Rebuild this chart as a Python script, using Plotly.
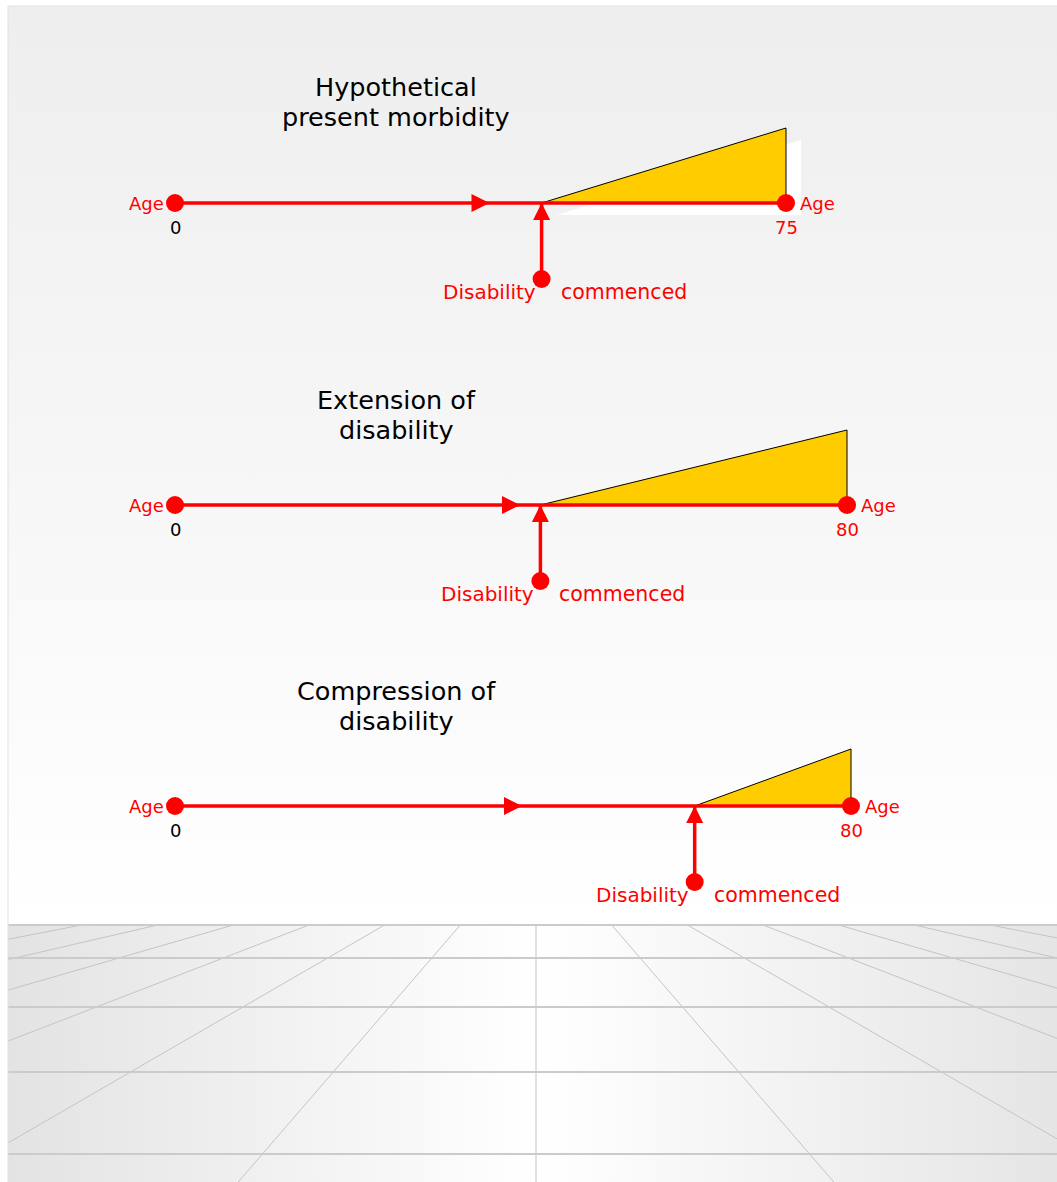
import plotly.graph_objects as go

# ---------------------------------------------------------------- data
panel_titles = [
    ["Hypothetical", "present morbidity"],
    ["Extension of", "disability"],
    ["Compression of", "disability"],
]
end_age = [75, 80, 80]            # age at death
onset_age = [45, 43.5, 61.5]      # age at which disability commenced
end_level = [1.0, 1.0, 0.76]      # disability level reached at death
start_labels = ["0", "0", "0"]
end_labels = ["75", "80", "80"]

# ---------------------------------------------------------------- layout (page pixels)
W, H = 1057, 1182
FONT = "DejaVu Sans, Liberation Sans, Arial, sans-serif"
RED = "#ff0000"
GOLD = "#ffcc00"

zero_px = 175                      # x of age 0 on every panel
end_px = [786, 847, 851]           # x of the end age on each panel
baseline_px = [203, 505, 806]      # y of each life line
title_pos = [(396, 102), (396, 415), (396, 706)]
title_gap = 30                     # distance between the two title lines
level_px = 75                      # pixels per unit of disability level
stem_px = 76                       # length of the "commenced" stem
shadow_off = (15, 12)              # drop shadow behind the first wedge

panel_left, panel_top, floor_top = 8, 6, 925
floor_rows = [925, 958, 1007, 1072, 1154]
vanish_x, vanish_y = 536, 837.4
col_step = 75.7                    # floor column spacing along the horizon edge

fig = go.Figure()

# ---------------------------------------------------------------- backdrop
fig.add_trace(go.Scatter(
    x=[panel_left, W, W, panel_left, panel_left],
    y=[panel_top, panel_top, floor_top, floor_top, panel_top],
    mode="lines", line=dict(width=0), fill="toself",
    fillgradient=dict(type="vertical", start=panel_top, stop=floor_top,
                      colorscale=[[0, "#eeeeee"], [1, "#ffffff"]]),
    hoverinfo="skip"))

fig.add_trace(go.Scatter(
    x=[panel_left, W, W, panel_left, panel_left],
    y=[floor_top, floor_top, H, H, floor_top],
    mode="lines", line=dict(width=0), fill="toself",
    fillgradient=dict(type="horizontal", start=panel_left, stop=W,
                      colorscale=[[0, "#e3e3e3"], [0.503, "#ffffff"], [1, "#e5e5e5"]]),
    hoverinfo="skip"))

# perspective floor: columns converging on the vanishing point
col_x, col_y = [], []
for k in range(-8, 9):
    def x_at(y):
        return vanish_x + k * col_step * (y - vanish_y) / (floor_top - vanish_y)
    x0 = x_at(floor_top)
    if x0 < panel_left or x0 > W:
        continue
    y1 = H
    x1 = x_at(H)
    if x1 < panel_left or x1 > W:
        edge = panel_left if x1 < panel_left else W
        y1 = vanish_y + (edge - vanish_x) * (floor_top - vanish_y) / (k * col_step)
        x1 = edge
    col_x += [x0, x1, None]
    col_y += [floor_top, y1, None]
fig.add_trace(go.Scatter(x=col_x, y=col_y, mode="lines",
                         line=dict(color="#c4c4c4", width=1), hoverinfo="skip"))

row_x, row_y = [], []
for r in floor_rows:
    row_x += [panel_left, W, None]
    row_y += [r, r, None]
fig.add_trace(go.Scatter(x=row_x, y=row_y, mode="lines",
                         line=dict(color="#cbcbcb", width=2), hoverinfo="skip"))

# thin frame on the left and top edge of the backdrop
fig.add_trace(go.Scatter(x=[panel_left, panel_left, None, panel_left, W],
                         y=[H, panel_top, None, panel_top, panel_top],
                         mode="lines", line=dict(color="#e2e2e2", width=1),
                         hoverinfo="skip"))

# ---------------------------------------------------------------- panels
annotations = []
layout_axes = {}
for i in range(3):
    n = i + 2
    xa, ya = f"x{n}", f"y{n}"
    A, T, L = end_age[i], onset_age[i], end_level[i]
    b = baseline_px[i]
    s = (end_px[i] - zero_px) / A           # pixels per year
    px_x, px_y = 1.0 / s, 1.0 / level_px    # data units per pixel

    layout_axes[f"xaxis{n}"] = dict(overlaying="x", anchor=ya, visible=False,
                                    range=[-zero_px / s, (W - zero_px) / s],
                                    fixedrange=True)
    layout_axes[f"yaxis{n}"] = dict(overlaying="y", anchor=xa, visible=False,
                                    range=[(b - H) / level_px, b / level_px],
                                    fixedrange=True)

    common = dict(xaxis=xa, yaxis=ya, hoverinfo="skip")

    if i == 0:
        ox, oy = shadow_off[0] * px_x, -shadow_off[1] * px_y
        fig.add_trace(go.Scatter(x=[T + ox, A + ox, A + ox, T + ox],
                                 y=[oy, L + oy, oy, oy], mode="lines",
                                 line=dict(width=0), fill="toself",
                                 fillcolor="#ffffff", **common))

    # disability wedge
    fig.add_trace(go.Scatter(x=[T, A, A, T], y=[0, L, 0, 0], mode="lines",
                             line=dict(color="#000000", width=1), fill="toself",
                             fillcolor=GOLD, **common))

    stem = -stem_px * px_y
    # life line and stem
    fig.add_trace(go.Scatter(x=[0, A, None, T, T], y=[0, 0, None, stem, 0],
                             mode="lines", line=dict(color=RED, width=3.5),
                             **common))
    # arrowheads
    fig.add_trace(go.Scatter(x=[A / 2 + 9 * px_x], y=[0], mode="markers",
                             marker=dict(symbol="arrow-right", size=18, color=RED,
                                         line=dict(width=0)), **common))
    fig.add_trace(go.Scatter(x=[T], y=[0], mode="markers",
                             marker=dict(symbol="arrow-up", size=17, color=RED,
                                         line=dict(width=0)), **common))
    # end points
    fig.add_trace(go.Scatter(x=[0, A, T], y=[0, 0, stem], mode="markers",
                             marker=dict(symbol="circle", size=18, color=RED,
                                         line=dict(width=0)), **common))

    lab = dict(xref=xa, yref=ya, showarrow=False)
    annotations += [
        dict(x=0, y=0, text="Age", xanchor="right", xshift=-9,
             font=dict(family=FONT, size=18, color=RED), **lab),
        dict(x=0, y=0, text=start_labels[i], yshift=-24,
             font=dict(family=FONT, size=18, color="#000000"), **lab),
        dict(x=A, y=0, text="Age", xanchor="left", xshift=12,
             font=dict(family=FONT, size=18, color=RED), **lab),
        dict(x=A, y=0, text=end_labels[i], yshift=-24,
             font=dict(family=FONT, size=18, color=RED), **lab),
        dict(x=T, y=stem, text="Disability", xanchor="right", xshift=-4,
             yshift=-13, font=dict(family=FONT, size=20, color=RED), **lab),
        dict(x=T, y=stem, text="commenced", xanchor="left", xshift=17,
             yshift=-13, font=dict(family=FONT, size=20.5, color=RED), **lab),
    ]
    tx, ty = title_pos[i]
    for j, line in enumerate(panel_titles[i]):
        annotations.append(dict(x=tx, y=ty + (j - 0.5) * title_gap,
                                xref="x", yref="y", showarrow=False,
                                text=line, align="center",
                                font=dict(family=FONT, size=25.5, color="#000000")))

fig.update_layout(
    width=W, height=H,
    margin=dict(l=0, r=0, t=0, b=0),
    paper_bgcolor="#ffffff",
    plot_bgcolor="rgba(0,0,0,0)",
    showlegend=False,
    xaxis=dict(range=[0, W], visible=False, fixedrange=True),
    yaxis=dict(range=[H, 0], visible=False, fixedrange=True),
    annotations=annotations,
    **layout_axes,
)

fig.write_html("out.html", config={"displayModeBar": False})
